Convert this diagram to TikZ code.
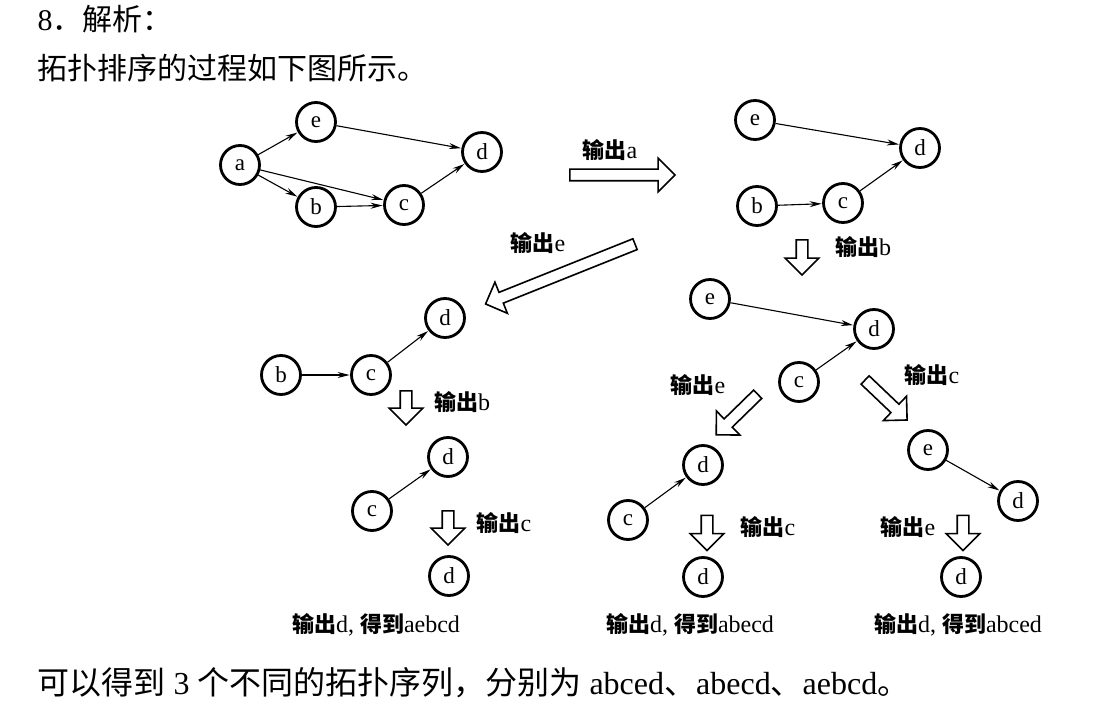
\documentclass[tikz,border=0pt]{standalone}
\usepackage{fontspec}
\setmainfont{Liberation Serif}
\newfontfamily\cjk{Noto Sans CJK SC}
\usetikzlibrary{arrows.meta,shapes.arrows}
\newcommand\outlab[1]{{\cjk\bfseries 输出}{\fontsize{24}{24}\selectfont #1}}
\newcommand\reslab[1]{{\cjk\bfseries 输出}{\fontsize{24}{24}\selectfont d, }{\cjk\bfseries 得到}{\fontsize{24}{24}\selectfont #1}}
\begin{document}
\begin{tikzpicture}[x=1pt,y=1pt,
  vtx/.style={circle,draw,line width=2.8pt,minimum size=39pt,inner sep=0pt,font=\fontsize{23}{23}\selectfont},
  edge/.style={-{Stealth[length=12pt,width=6pt]},line width=1.1pt,shorten >=0.5pt},
  blk/.style={single arrow,draw,line width=1.6pt,inner xsep=0pt,inner ysep=5pt,single arrow head extend=11pt,
    single arrow tip angle=90,single arrow head indent=0pt},
  lab/.style={font=\fontsize{22}{22}\selectfont},
  txt/.style={anchor=west,font=\fontsize{30}{30}\selectfont}]
\useasboundingbox (0,0) rectangle (1120,-703);
% heading
\node[txt] (h1) at (34,-19) {8{\cjk ．解析：}};
\node[txt] (h2) at (34,-68) {{\cjk 拓扑排序的过程如下图所示。}};
\node[txt,font=\fontsize{32}{32}\selectfont] (h3) at (34,-683) {{\cjk 可以得到} 3 {\cjk 个不同的拓扑序列，分别为} abced{\cjk 、}abecd{\cjk 、}aebcd{\cjk 。}};
% graph 1
\node[vtx] (a1) at (240,-165) {a};
\node[vtx] (e1) at (316,-122) {e};
\node[vtx] (d1) at (482,-152) {d};
\node[vtx] (b1) at (316,-207) {b};
\node[vtx] (c1) at (404,-205) {c};
\draw[edge] (a1) -- (e1);
\draw[edge] (a1) -- (b1);
\draw[edge] (a1) -- (c1);
\draw[edge] (e1) -- (d1);
\draw[edge] (b1) -- (c1);
\draw[edge] (c1) -- (d1);
% graph 2
\node[vtx] (e2) at (755,-120) {e};
\node[vtx] (d2) at (920,-148) {d};
\node[vtx] (b2) at (757,-206) {b};
\node[vtx] (c2) at (843,-203) {c};
\draw[edge] (e2) -- (d2);
\draw[edge] (b2) -- (c2);
\draw[edge] (c2) -- (d2);
% graph 3
\node[vtx] (e3) at (710,-299) {e};
\node[vtx] (d3) at (874,-329) {d};
\node[vtx] (c3) at (799,-382) {c};
\draw[edge] (e3) -- (d3);
\draw[edge] (c3) -- (d3);
% graph 4
\node[vtx] (d4) at (445,-318) {d};
\node[vtx] (b4) at (281,-375) {b};
\node[vtx] (c4) at (371,-375) {c};
\draw[edge] (b4) -- (c4);
\draw[edge] (c4) -- (d4);
% graph 5
\node[vtx] (d5) at (448,-457) {d};
\node[vtx] (c5) at (372,-511) {c};
\draw[edge] (c5) -- (d5);
\node[vtx] (d6) at (449,-576) {d};
% graph 7
\node[vtx] (d7) at (703,-465) {d};
\node[vtx] (c7) at (628,-520) {c};
\draw[edge] (c7) -- (d7);
\node[vtx] (d8) at (703,-577) {d};
% graph 9
\node[vtx] (e9) at (928,-450) {e};
\node[vtx] (d9) at (1018,-501) {d};
\draw[edge] (e9) -- (d9);
\node[vtx] (d10) at (961,-577) {d};
% hollow arrows
\node[blk,minimum height=105pt] (A1) at (619.5,-175) {};
\node[blk,minimum height=35pt,rotate=-90] (A2) at (802,-254.5) {};
\node[blk,minimum height=161pt,rotate=201.8] (A3) at (563,-273) {};
\node[blk,minimum height=34pt,rotate=-90] (A4) at (406,-405) {};
\node[blk,minimum height=34pt,rotate=-90] (A5) at (448,-525) {};
\node[blk,minimum height=58pt,rotate=224.3] (A6) at (739,-412.5) {};
\node[blk,minimum height=58pt,rotate=-43.6] (A7) at (884,-398) {};
\node[blk,minimum height=35pt,rotate=-90] (A8) at (707,-530) {};
\node[blk,minimum height=35pt,rotate=-90] (A9) at (963,-530) {};
% labels
\node[lab] (L1) at (610,-150) {\outlab{a}};
\node[lab] (L2) at (863,-247) {\outlab{b}};
\node[lab] (L3) at (538,-243) {\outlab{e}};
\node[lab] (L4) at (462,-402) {\outlab{b}};
\node[lab] (L5) at (504,-523) {\outlab{c}};
\node[lab] (L6) at (698,-385) {\outlab{e}};
\node[lab] (L7) at (932,-375) {\outlab{c}};
\node[lab] (L8) at (768,-527) {\outlab{c}};
\node[lab] (L9) at (908,-527) {\outlab{e}};
\node[lab] (R1) at (376,-625) {\reslab{aebcd}};
\node[lab] (R2) at (690,-625) {\reslab{abecd}};
\node[lab] (R3) at (958,-625) {\reslab{abced}};
\end{tikzpicture}
\end{document}
